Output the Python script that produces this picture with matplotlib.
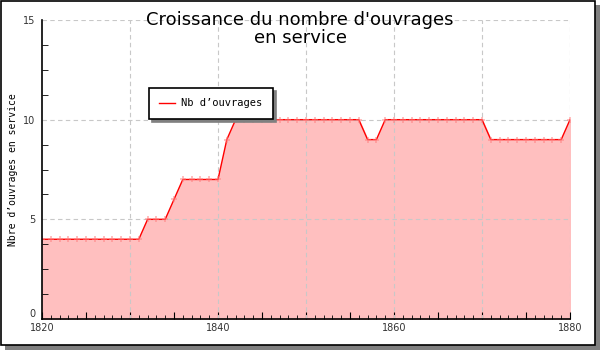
# croissance du nombre d'ouvrages en service, 1820-1880
import matplotlib
matplotlib.use('Agg')
import matplotlib.pyplot as plt
from matplotlib.patches import Rectangle
from matplotlib.ticker import MultipleLocator

annees = list(range(1820, 1881))
nb_ouvrages = [4, 4, 4, 4, 4, 4, 4, 4, 4, 4,      # 1820-1829
               4, 4, 5, 5, 5, 6, 7, 7, 7, 7,      # 1830-1839
               7, 9, 10, 10, 10, 10, 10, 10, 10, 10,  # 1840-1849
               10, 10, 10, 10, 10, 10, 10, 9, 9, 10,  # 1850-1859
               10, 10, 10, 10, 10, 10, 10, 10, 10, 10,  # 1860-1869
               10, 9, 9, 9, 9, 9, 9, 9, 9, 9,     # 1870-1879
               10]                                # 1880
x_labels = [1820, 1840, 1860, 1880]
y_labels = [0, 5, 10, 15]

fig = plt.figure(figsize=(6, 3.5), dpi=100)
fig.patch.set_facecolor('white')

# cadre + ombre
fig.patches.append(Rectangle((5 / 600, 0), 595 / 600, 345 / 350, transform=fig.transFigure,
                             facecolor='#808080', edgecolor='none', zorder=-2))
fig.patches.append(Rectangle((0.5 / 600, 5 / 350), 594 / 600, 344 / 350, transform=fig.transFigure,
                             facecolor='white', edgecolor='black', linewidth=1.2, zorder=-1))

ax = fig.add_axes([42 / 600, 31 / 350, 528 / 600, 299 / 350])
ax.set_facecolor('none')

ax.fill_between(annees, nb_ouvrages, 0, color='#ffbfbf', zorder=1)
ax.plot(annees, nb_ouvrages, c='red', linewidth=1, zorder=3, label='Nb d’ouvrages')
ax.plot(annees, nb_ouvrages, ls='none', marker='+', ms=4, mew=1.2, c='#ff8080',
        alpha=0.6, zorder=4)

ax.set_xlim(1820, 1880)
ax.set_ylim(0, 15)
ax.set_yticks(y_labels)
ax.xaxis.set_minor_locator(MultipleLocator(1))
ax.yaxis.set_minor_locator(MultipleLocator(1.25))

for v in range(1830, 1881, 10):
    ax.axvline(v, color='#c8c8c8', linestyle=(0, (4, 3)), linewidth=0.8, zorder=2)
for v in [5, 10, 15]:
    ax.axhline(v, color='#c8c8c8', linestyle=(0, (4, 3)), linewidth=0.8, zorder=2)

for s in ['top', 'right']:
    ax.spines[s].set_visible(False)
for s in ['left', 'bottom']:
    ax.spines[s].set_linewidth(1.2)
    ax.spines[s].set_zorder(5)

ax.tick_params(which='both', direction='in', labelsize=7, labelcolor='#333333')
ax.tick_params(axis='x', which='major', length=5, pad=3)
ax.tick_params(axis='x', which='minor', length=3)
ax.tick_params(axis='y', which='major', length=0, pad=5)
ax.tick_params(axis='y', which='minor', length=4)
# ticks majeurs tous les 5 ans sur l'axe x
ax.set_xticks(list(range(1820, 1881, 5)), minor=False)
ax.set_xticklabels([str(v) if v in x_labels else '' for v in range(1820, 1881, 5)])
ax.get_yticklabels()[0].set_verticalalignment('bottom')

ax.set_ylabel('Nbre d’ouvrages en service', family='DejaVu Sans Mono', fontsize=7)
ax.yaxis.set_label_coords(-0.046, 0.5)

fig.text(0.5, 1 - 11 / 350, "Croissance du nombre d'ouvrages\nen service", ha='center',
         va='top', fontsize=13, linespacing=1.0)

leg = ax.legend(loc='upper left', bbox_to_anchor=(149 / 600, 1 - 88 / 350),
                bbox_transform=fig.transFigure, fancybox=False, shadow={'color': '#808080', 'alpha': 1},
                edgecolor='black', framealpha=1, prop={'family': 'DejaVu Sans Mono', 'size': 7.5},
                handlelength=1.5, borderpad=1.0, handletextpad=0.6, borderaxespad=0)
leg.get_frame().set_linewidth(1.2)

fig.savefig('out.png', dpi=100)
